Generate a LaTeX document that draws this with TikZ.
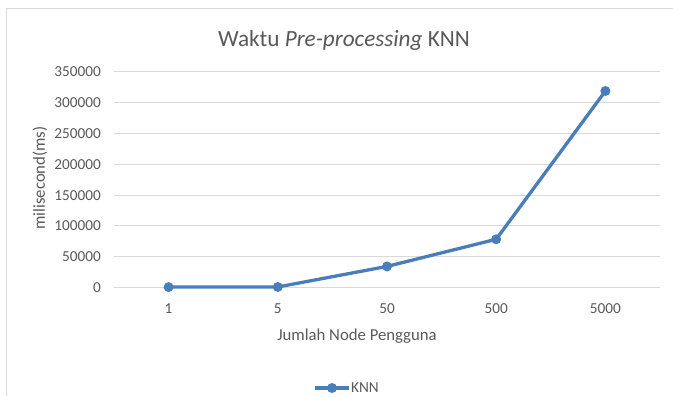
\documentclass[tikz,border=0pt]{standalone}
\usepackage{fontspec}
\setmainfont{Carlito}
\definecolor{knnblue}{RGB}{74,126,187}
\definecolor{gridgray}{RGB}{217,217,217}
\definecolor{txtgray}{RGB}{89,89,89}
\begin{document}
\begin{tikzpicture}[x=1bp,y=-1bp,
  grid/.style={draw=gridgray,line width=1bp},
  ticklab/.style={text=txtgray,font=\fontsize{15.3}{18}\selectfont,inner sep=0pt},
  axtitle/.style={text=txtgray,font=\fontsize{16.8}{19}\selectfont,inner sep=0pt},
  series/.style={draw=knnblue,line width=3.3bp,line join=round},
  mk/.style={circle,fill=knnblue,minimum size=10bp,inner sep=0pt}]
\useasboundingbox (0,0) rectangle (673,396);
\fill[white] (0,0) rectangle (673,396);
% frame
\coordinate (fbl) at (6.5,396);
\coordinate (ftl) at (6.5,8.7);
\coordinate (ftr) at (673,8.7);
\draw[gridgray,line width=1.5bp] (fbl) -- (ftl) -- (ftr);
% title
\node[text=txtgray,font=\fontsize{23.3}{27}\selectfont,inner sep=0pt] (title) at (344,40) {Waktu \textit{Pre-processing} KNN};
% grid and y labels
\foreach \v [count=\i from 0] in {0,50000,100000,150000,200000,250000,300000,350000}{
  \coordinate (gl\i) at (114,287.7-30.857*\i);
  \coordinate (gr\i) at (660,287.7-30.857*\i);
  \draw[grid] (gl\i) -- (gr\i);
  \node[ticklab,anchor=east] (yl\i) at (101,287.7-30.857*\i) {\v};
}
% x labels
\foreach \c [count=\i from 0] in {1,5,50,500,5000}{
  \node[ticklab] (xl\i) at (168.6+109.2*\i,309) {\c};
}
\node[axtitle] (xtitle) at (357,336) {Jumlah Node Pengguna};
\node[axtitle,rotate=90] (ytitle) at (40,178) {milisecond(ms)};
% data (values in thousands of ms)
\node[mk] (p0) at (168.6,287.7-0.61714*1.0) {};
\node[mk] (p1) at (277.8,287.7-0.61714*1.2) {};
\node[mk] (p2) at (387.0,287.7-0.61714*34.5) {};
\node[mk] (p3) at (496.2,287.7-0.61714*78.5) {};
\node[mk] (p4) at (605.4,287.7-0.61714*318.8) {};
\draw[series] (p0.center) -- (p1.center) -- (p2.center) -- (p3.center) -- (p4.center);
% legend
\coordinate (la) at (315,388);
\coordinate (lb) at (349,388);
\draw[series] (la) -- (lb);
\node[mk] (lm) at (332,388) {};
\node[ticklab,anchor=west] (ltext) at (351,388) {KNN};
\end{tikzpicture}
\end{document}
